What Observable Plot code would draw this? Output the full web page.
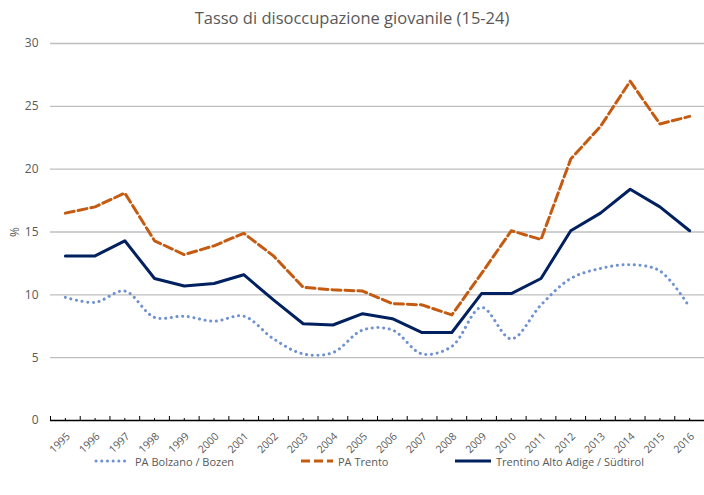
<!DOCTYPE html>
<html>
<head>
<meta charset="utf-8">
<script src="https://cdn.jsdelivr.net/npm/d3@7"></script>
<script src="https://cdn.jsdelivr.net/npm/@observablehq/plot@0.6"></script>
<style>
  body { margin: 0; background: #fff; width: 704px; overflow: hidden;
         font-family: "Open Sans", sans-serif; }
  #title { height: 30px; line-height: 36px; text-align: center; font-size: 16.5px; color: #595959; overflow: visible; }
  #chart svg { display: block; }
  #legend { position: relative; height: 30px; margin-top: -6px; font-size: 11px; color: #595959; }
  .item { position: absolute; top: 0; display: flex; align-items: center; height: 14px; white-space: nowrap; }
  .item svg { margin-right: 3px; }
</style>
</head>
<body>
<div id="title">Tasso di disoccupazione giovanile (15-24)</div>
<div id="chart"></div>
<div id="legend"></div>
<script>
const years = [1995,1996,1997,1998,1999,2000,2001,2002,2003,2004,2005,2006,2007,2008,2009,2010,2011,2012,2013,2014,2015,2016];
const bolzano = [9.8,9.4,10.3,8.2,8.3,7.9,8.3,6.5,5.3,5.4,7.2,7.2,5.3,5.9,9.0,6.5,9.2,11.3,12.1,12.4,11.9,9.0];
const trento  = [16.5,17.0,18.1,14.3,13.2,13.9,14.9,13.1,10.6,10.4,10.3,9.3,9.2,8.4,11.7,15.1,14.4,20.8,23.4,27.0,23.6,24.2];
const taa     = [13.1,13.1,14.3,11.3,10.7,10.9,11.6,9.6,7.7,7.6,8.5,8.1,7.0,7.0,10.1,10.1,11.3,15.1,16.5,18.4,17.0,15.1];
const seriesNames = ["PA Bolzano / Bozen", "PA Trento", "Trentino Alto Adige / Südtirol"];
const yTicks = [0,5,10,15,20,25,30];

const colors = ["#6F91D2", "#C55A11", "#002060"];
const boundaries = years.map(y => y - 0.5).concat([years[years.length-1] + 0.5]);
const mk = (arr) => years.map((y,i) => ({year: y, value: arr[i]}));

const chart = Plot.plot({
  width: 704,
  height: 430,
  marginTop: 13,
  marginLeft: 50,
  marginRight: 0,
  marginBottom: 40,
  style: {fontFamily: '"Open Sans", sans-serif', fontSize: "12px", color: "#595959", background: "#fff"},
  x: {type: "linear", domain: [1994.5, 2016.5]},
  y: {domain: [0, 30]},
  marks: [
    Plot.ruleY(yTicks.filter(d => d > 0), {stroke: "#BFBFBF", strokeWidth: 1.3}),
    Plot.axisY(yTicks, {tickSize: 0, tickPadding: 12, label: "%", labelAnchor: "center", labelArrow: "none", labelOffset: 40, fontSize: 12}),
    Plot.axisX(years, {tickSize: 0, tickFormat: "d", tickRotate: -45, tickPadding: 6, dy: 8, dx: 3, label: null, fontSize: 10.5}),
    Plot.ruleX(boundaries, {y1: 0, y2: 0.32, stroke: "#000", strokeWidth: 1}),
    Plot.ruleX(years, {y1: 0, y2: 0.16, stroke: "#000", strokeWidth: 1}),
    Plot.ruleY([0], {stroke: "#000", strokeWidth: 1.3}),
    Plot.line(mk(bolzano), {x: "year", y: "value", stroke: colors[0], strokeWidth: 3, strokeDasharray: "0.1,5.6", strokeLinecap: "round", curve: "catmull-rom"}),
    Plot.line(mk(trento), {x: "year", y: "value", stroke: colors[1], strokeWidth: 3, strokeDasharray: "9,4"}),
    Plot.line(mk(taa), {x: "year", y: "value", stroke: colors[2], strokeWidth: 3})
  ]
});
document.getElementById("chart").appendChild(chart);

// legend
const legend = document.getElementById("legend");
const legendX = [94, 299, 453];
const swatchW = [38, 36, 40];
const dashes = ["0.1,5.6", "9,4", null];
seriesNames.forEach((name, i) => {
  const item = document.createElement("div");
  item.className = "item";
  item.style.left = legendX[i] + "px";
  const ns = "http://www.w3.org/2000/svg";
  const s = document.createElementNS(ns, "svg");
  s.setAttribute("width", swatchW[i]);
  s.setAttribute("height", 6);
  const l = document.createElementNS(ns, "line");
  l.setAttribute("x1", 2); l.setAttribute("x2", swatchW[i] - 2);
  l.setAttribute("y1", 3); l.setAttribute("y2", 3);
  l.setAttribute("stroke", colors[i]); l.setAttribute("stroke-width", 3);
  if (dashes[i]) l.setAttribute("stroke-dasharray", dashes[i]);
  if (i === 0) l.setAttribute("stroke-linecap", "round");
  s.appendChild(l);
  item.appendChild(s);
  const t = document.createElement("span");
  t.textContent = name;
  item.appendChild(t);
  legend.appendChild(item);
});
</script>
</body>
</html>
